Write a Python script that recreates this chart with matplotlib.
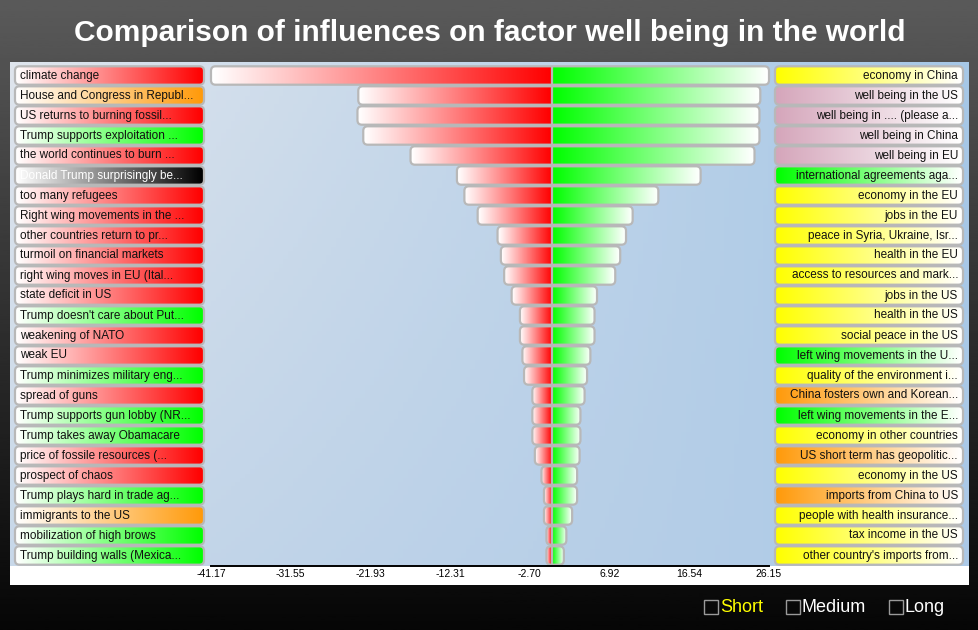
import numpy as np
import matplotlib
matplotlib.use("Agg")
import matplotlib.pyplot as plt
from matplotlib.patches import FancyBboxPatch, Rectangle
from matplotlib.colors import to_rgb

plt.rcParams['font.family'] = ['Liberation Sans', 'DejaVu Sans']

title = "Comparison of influences on factor well being in the world"

causes = [
    "climate change", "House and Congress in Republ...", "US returns to burning fossil...",
    "Trump supports exploitation ...", "the world continues to burn ...",
    "Donald Trump surprisingly be...", "too many refugees", "Right wing movements in the ...",
    "other countries return to pr...", "turmoil on financial markets",
    "right wing moves in EU (Ital...", "state deficit in US", "Trump doesn't care about Put...",
    "weakening of NATO", "weak EU", "Trump minimizes military eng...", "spread of guns",
    "Trump supports gun lobby (NR...", "Trump takes away Obamacare",
    "price of fossile resources (...", "prospect of chaos", "Trump plays hard in trade ag...",
    "immigrants to the US", "mobilization of high brows", "Trump building walls (Mexica...",
]
cause_kind = [
    "red", "orange", "red", "green", "red", "black", "red", "red", "red", "red",
    "red", "red", "green", "red", "red", "green", "red", "green", "green", "red",
    "red", "green", "orange", "green", "green",
]
effects = [
    "economy in China", "well being in the US", "well being in .... (please a...",
    "well being in China", "well being in EU", "international agreements aga...",
    "economy in the EU", "jobs in the EU", "peace in Syria, Ukraine, Isr...",
    "health in the EU", "access to resources and mark...", "jobs in the US",
    "health in the US", "social peace in the US", "left wing movements in the U...",
    "quality of the environment i...", "China fosters own and Korean...",
    "left wing movements in the E...", "economy in other countries",
    "US short term has geopolitic...", "economy in the US", "imports from China to US",
    "people with health insurance...", "tax income in the US",
    "other country's imports from...",
]
effect_kind = [
    "yellow", "pink", "pink", "pink", "pink", "green", "yellow", "yellow", "yellow",
    "yellow", "yellow", "yellow", "yellow", "yellow", "green", "yellow", "orange",
    "green", "yellow", "orange", "yellow", "orange", "yellow", "yellow", "yellow",
]
negative = [-41.17, -23.4, -23.5, -22.8, -17.1, -11.5, -10.6, -9.0, -6.6, -6.2,
            -5.8, -4.9, -3.9, -3.9, -3.6, -3.4, -2.4, -2.4, -2.4, -2.1,
            -1.3, -1.0, -1.0, -0.7, -0.7]
positive = [26.15, 25.1, 25.0, 25.0, 24.4, 17.9, 12.8, 9.7, 8.9, 8.2,
            7.6, 5.4, 5.1, 5.1, 4.6, 4.2, 3.9, 3.4, 3.4, 3.3,
            3.0, 3.0, 2.4, 1.7, 1.4]
ticks = [-41.17, -31.55, -21.93, -12.31, -2.70, 6.92, 16.54, 26.15]
tick_labels = ["-41.17", "-31.55", "-21.93", "-12.31", "-2.70", "6.92", "16.54", "26.15"]
legend_items = ["Short", "Medium", "Long"]
legend_colors = ["#ffff00", "white", "white"]

kind_color = {"red": "#ff0000", "orange": "#ff9a0a", "green": "#00ff00",
              "black": "#000000", "yellow": "#ffff00", "pink": "#d5a6bb"}

W, H = 979, 630
fig = plt.figure(figsize=(W / 100, H / 100), dpi=100)

# dark background
bg = fig.add_axes([0, 0, 1, 1])
bg.set_xlim(0, 1)
bg.set_ylim(0, 1)
bg.axis('off')
shade = np.linspace(0x5a, 0x06, 256)[:, None] / 255
bg.imshow(shade, cmap='gray', vmin=0, vmax=1, extent=(0, 1, 0, 1), aspect='auto', zorder=0)
bg.add_patch(Rectangle((10 / W, (H - 585) / H), 959 / W, 20 / H, fc='white', ec='none', zorder=1))
fig.text(0.5, 1 - 33 / H, title, ha='center', va='center', color='white',
         fontsize=21.5, fontweight='bold')

# legend
box_x = [704, 786, 889]
for name, col, bx in zip(legend_items, legend_colors, box_x):
    bg.add_patch(Rectangle((bx / W, (H - 614) / H), 14 / W, 14 / H, fc='none',
                           ec='#9a9a9a', lw=1, zorder=2))
    bg.text((bx + 16) / W, (H - 607) / H, name, color=col, fontsize=13,
            ha='left', va='center', zorder=2)

# main panel
ax = fig.add_axes([10 / W, (H - 566) / H, 959 / W, 504 / H])
px_per_unit = (769 - 211) / (ticks[-1] - ticks[0])
XL = ticks[0] - (211 - 10) / px_per_unit
XR = ticks[-1] + (969 - 769) / px_per_unit
YT, YB = -0.675, 24.525


def px2x(p):
    return XL + (p - 10) / px_per_unit


# panel gradient
tl, tr = np.array([223, 229, 237]), np.array([166, 199, 230])
bl, br = np.array([200, 216, 233]), np.array([172, 201, 231])
u = np.linspace(0, 1, 200)[None, :, None]
v = np.linspace(0, 1, 120)[:, None, None]
panel = ((1 - v) * ((1 - u) * tl + u * tr) + v * ((1 - u) * bl + u * br)) / 255
ax.imshow(panel, extent=(0, 1, 0, 1), transform=ax.transAxes, aspect='auto', zorder=0)

m_aspect = px_per_unit / 20.0
radius = 4.5 / px_per_unit


def grad_box(x0, x1, y, h, parts):
    patch = FancyBboxPatch((x0, y - h / 2), x1 - x0, h,
                           boxstyle=f"round,pad=0,rounding_size={radius}",
                           mutation_aspect=m_aspect, fc='none',
                           ec='#b8b8b8', lw=1.6, zorder=3)
    ax.add_patch(patch)
    for a, b, ca, cb in parts:
        t = np.linspace(0, 1, 64)[None, :, None]
        img = (1 - t) * np.array(to_rgb(ca)) + t * np.array(to_rgb(cb))
        im = ax.imshow(img, extent=(a, b, y + h / 2, y - h / 2), aspect='auto',
                       interpolation='bilinear', zorder=2)
        im.set_clip_path(patch)


rows = np.arange(len(causes))
bh = 0.92
for i in rows:
    grad_box(negative[i], positive[i], i, bh,
             [(negative[i], 0, 'white', '#ff0000'), (0, positive[i], '#00ff00', 'white')])
ax.plot([0, 0], [rows[0] - bh / 2, rows[-1] + bh / 2], color='#b8b8b8', lw=1.6, zorder=3,
        solid_capstyle='butt')

lx0, lx1 = px2x(15), px2x(204)
rx0, rx1 = px2x(775), px2x(963)
for i in rows:
    c = kind_color[cause_kind[i]]
    grad_box(lx0, lx1, i, bh, [(lx0, lx1, 'white', c)])
    ax.text(px2x(20), i, causes[i], ha='left', va='center', fontsize=8.5, zorder=4,
            color='white' if cause_kind[i] == 'black' else '#111111')
    c = kind_color[effect_kind[i]]
    grad_box(rx0, rx1, i, bh, [(rx0, rx1, c, 'white')])
    ax.text(px2x(958), i, effects[i], ha='right', va='center', fontsize=8.5, zorder=4,
            color='#111111')

ax.set_xlim(XL, XR)
ax.set_ylim(YB, YT)
ax.set_yticks([])
ax.set_xticks(ticks, tick_labels)
ax.tick_params(axis='x', length=0, pad=2.5, labelsize=7.5, colors='black')
for s in ['top', 'left', 'right']:
    ax.spines[s].set_visible(False)
ax.spines['bottom'].set_bounds(ticks[0], ticks[-1])
ax.spines['bottom'].set_linewidth(1.4)
ax.spines['bottom'].set_zorder(5)

fig.savefig("out.png", dpi=100)
